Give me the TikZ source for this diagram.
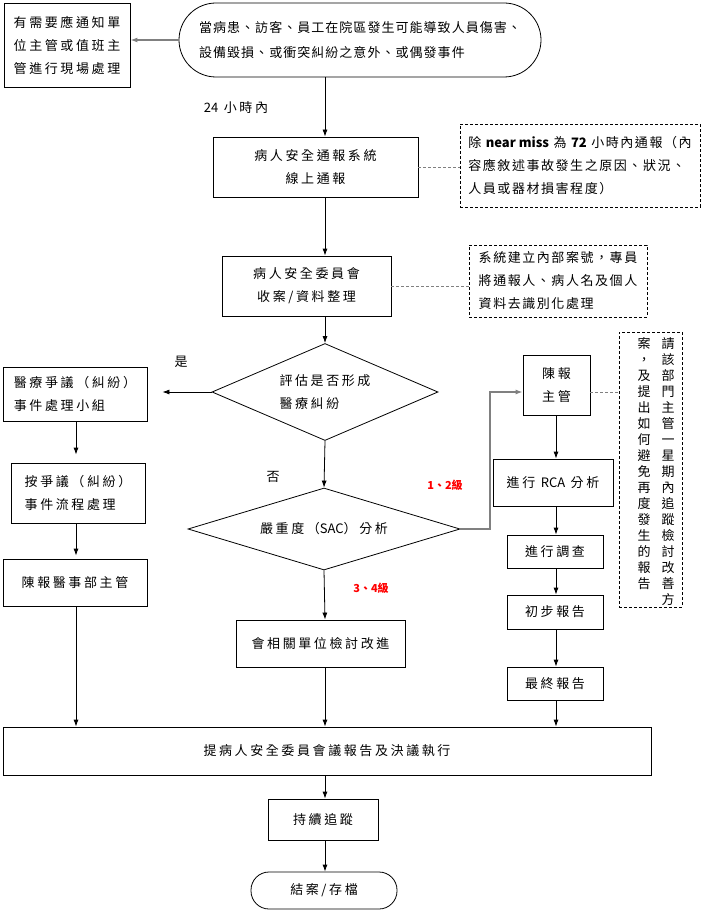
\documentclass[tikz,border=0pt]{standalone}
\usepackage{fontspec}
\newfontfamily\zh[LetterSpace=20]{Noto Sans CJK TC}
\newfontfamily\zhs[LetterSpace=8]{Noto Sans CJK TC}
\newfontfamily\zhn[LetterSpace=12]{Noto Sans CJK TC}
\newfontfamily\zhp{Noto Sans CJK TC}
\usetikzlibrary{shapes.geometric,arrows.meta}
\begin{document}
\begin{tikzpicture}[x=1pt, y=-1pt, every node/.style={inner sep=2pt, line width=.8pt},
    box/.style={draw, align=center, font=\zh\fontsize{13}{23}\selectfont},
    note/.style={draw, dash pattern=on 3pt off 2pt, align=left, font=\zhn\fontsize{13}{23}\selectfont},
    decide/.style={draw, diamond, shape aspect=2.6, inner sep=0pt, align=left, font=\zh\fontsize{13}{23}\selectfont},
    lbl/.style={font=\zh\fontsize{13}{16}\selectfont},
    grade/.style={text=red, font=\zhp\bfseries\fontsize{11}{13}\selectfont},
    vcol/.style={anchor=north, align=center, font=\zhp\fontsize{13}{16}\selectfont},
    arr/.style={-{Latex[length=7pt,width=5pt]}, line width=.8pt},
    link/.style={gray, dash pattern=on 3pt off 2pt, line width=.8pt}]
  \useasboundingbox (0,0) rectangle (704,912);
  \coordinate (axis) at (325,0);
  \coordinate (laxis) at (76,0);
  \coordinate (raxis) at (556,0);
  \coordinate (turn) at (490,392);
  % top
  \node [box, minimum width=126pt, minimum height=84pt] (notify) at (67,45) {有需要應通知單\\位主管或值班主\\管進行現場處理};
  \node [box, rounded corners=37pt, align=left, font=\zhs\fontsize{13}{25}\selectfont, minimum width=362pt, minimum height=74pt] (start) at (360,40) {當病患、訪客、員工在院區發生可能導致人員傷害、\\設備毀損、或衝突糾紛之意外、或偶發事件};
  \node [lbl] (within) at (236,108) {{\zhp 24} 小時內};
  \node [box, minimum width=205pt, minimum height=60pt] (report) at (315.5,167) {病人安全通報系統\\線上通報};
  \node [note, minimum width=240pt, minimum height=83pt] (note1) at (580,165.5) {除 {\zhp\bfseries near miss} 為 {\zhp\bfseries 72} 小時內通報（內\\容應敘述事故發生之原因、狀況、\\人員或器材損害程度）};
  \node [box, minimum width=169pt, minimum height=60pt] (intake) at (306.5,286) {病人安全委員會\\收案/資料整理};
  \node [note, minimum width=178pt, minimum height=72pt] (note2) at (558,281) {系統建立內部案號，專員\\將通報人、病人名及個人\\資料去識別化處理};
  % middle
  \node [decide, minimum width=226pt, minimum height=97pt] (judge) at (325,392) {評估是否形成\\醫療糾紛};
  \node [lbl] (yes) at (181,362) {是};
  \node [lbl] (no) at (273,477) {否};
  \node [box, align=left, minimum width=144pt, minimum height=54pt] (medical) at (75,394) {醫療爭議（糾紛）\\事件處理小組};
  \node [box, align=left, minimum width=134pt, minimum height=60pt] (process) at (78,493) {按爭議（糾紛）\\事件流程處理};
  \node [box, minimum width=144pt, minimum height=47pt] (dept) at (75,582.5) {陳報醫事部主管};
  \node [decide, shape aspect=3.3, minimum width=272pt, minimum height=82pt] (sac) at (324,529) {嚴重度（{\zhp SAC}）分析};
  \node [grade] (g12) at (445,485) {1、2級};
  \node [grade] (g34) at (371,588) {3、4級};
  \node [box, minimum width=169pt, minimum height=47pt] (review) at (320.5,643.5) {會相關單位檢討改進};
  % right column
  \node [box, minimum width=67pt, minimum height=60pt] (chief) at (556.5,385) {陳報\\主管};
  \node [box, minimum width=120pt, minimum height=47pt] (rca) at (553,482.5) {進行 {\zhp RCA} 分析};
  \node [box, minimum width=96pt, minimum height=33pt] (survey) at (555,551.5) {進行調查};
  \node [box, minimum width=96pt, minimum height=34pt] (prelim) at (555,612) {初步報告};
  \node [box, minimum width=96pt, minimum height=33pt] (final) at (555,683.5) {最終報告};
  \node [draw, dash pattern=on 3pt off 2pt, minimum width=63pt, minimum height=275pt] (vnote) at (650.5,469.5) {};
  \node [vcol] (vcolr) at (668,335) {請\\該\\部\\門\\主\\管\\一\\星\\期\\內\\追\\蹤\\檢\\討\\改\\善\\方};
  \node [vcol] (vcoll) at (644,335) {案\\，\\及\\提\\出\\如\\何\\避\\免\\再\\度\\發\\生\\的\\報\\告};
  % bottom
  \node [box, minimum width=648pt, minimum height=48pt] (big) at (327,751) {提病人安全委員會議報告及決議執行};
  \node [box, minimum width=110pt, minimum height=41pt] (follow) at (323,819.5) {持續追蹤};
  \node [box, rounded corners=18pt, minimum width=146pt, minimum height=37pt] (end) at (324,890.5) {結案/存檔};
  % connectors
  \draw [arr, gray, line width=1.5pt] (start.west) -- (start.west -| notify.east);
  \draw [arr] (start.south -| axis) -- (report.north -| axis);
  \draw [arr] (report.south -| axis) -- (intake.north -| axis);
  \draw [arr] (intake.south -| axis) -- (judge.north);
  \draw [arr, shorten >=15pt] (judge.west) -- (judge.west -| medical.east);
  \draw [arr] (judge.south) -- (sac.north);
  \draw [arr, shorten >=8pt] (medical.south -| laxis) -- (process.north -| laxis);
  \draw [arr, shorten >=3pt] (process.south -| laxis) -- (dept.north -| laxis);
  \draw [arr] (dept.south -| laxis) -- (big.north -| laxis);
  \draw [arr] (sac.south) -- (review.north -| axis);
  \draw [arr] (review.south -| axis) -- (big.north -| axis);
  \draw [arr, gray, line width=1.2pt] (sac.east) -| (turn) -- (turn -| chief.west);
  \draw [arr] (chief.south -| raxis) -- (rca.north -| raxis);
  \draw [arr] (rca.south -| raxis) -- (survey.north -| raxis);
  \draw [arr] (survey.south -| raxis) -- (prelim.north -| raxis);
  \draw [arr] (prelim.south -| raxis) -- (final.north -| raxis);
  \draw [arr] (final.south -| raxis) -- (big.north -| raxis);
  \draw [arr] (big.south -| axis) -- (follow.north -| axis);
  \draw [arr] (follow.south -| axis) -- (end.north -| axis);
  \draw [link] (report.east) -- (report.east -| note1.west);
  \draw [link] (intake.east) -- (intake.east -| note2.west);
  \draw [link] (turn -| chief.east) -- (turn -| vnote.west);
\end{tikzpicture}
\end{document}
